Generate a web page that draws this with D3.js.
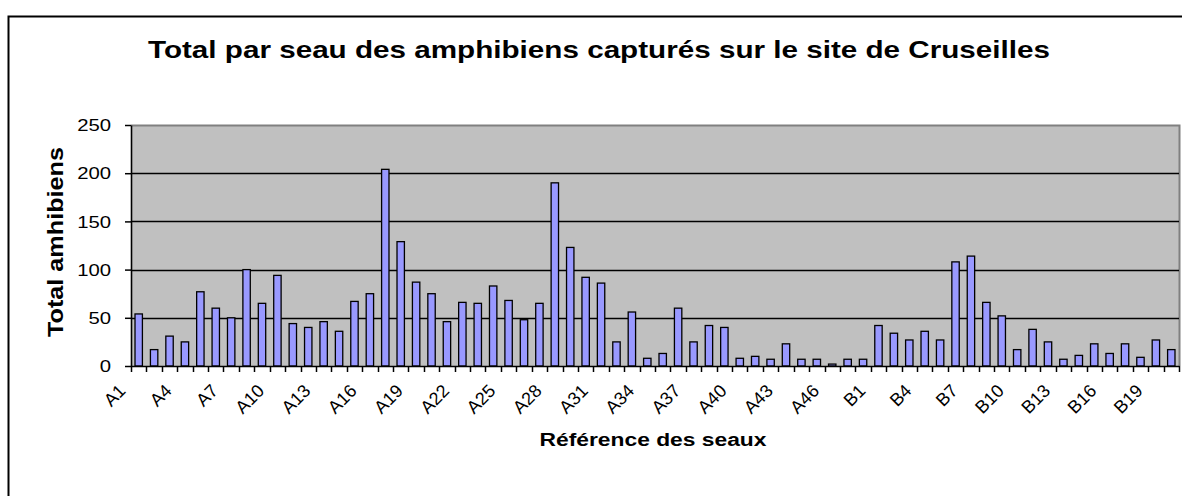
<!DOCTYPE html>
<html>
<head>
<meta charset="utf-8">
<script src="https://cdn.jsdelivr.net/npm/d3@7"></script>
<style>
  body { margin: 0; background: #fff; }
  text { font-family: Arial, "Liberation Sans", sans-serif; fill: #000; }
</style>
</head>
<body>
<div id="chart"></div>
<script>
(function() {
var width = 1182,
  height = 496;

var titre = "Total par seau des amphibiens capturés sur le site de Cruseilles";
var titreX = "Référence des seaux";
var titreY = "Total amhibiens";

// seaux de la ligne A et de la ligne B
var seauxA = ["A1","A2","A3","A4","A5","A6","A7","A8","A9","A10","A11","A12",
  "A13","A14","A15","A16","A17","A18","A19","A20","A21","A22","A23","A24",
  "A25","A26","A27","A28","A29","A30","A31","A32","A33","A34","A35","A36",
  "A37","A38","A39","A40","A41","A42","A43","A44","A45","A46","A47","A48"];
var seauxB = ["B1","B2","B3","B4","B5","B6","B7","B8","B9","B10",
  "B11","B12","B13","B14","B15","B16","B17","B18","B19","B20"];

var totalA = [54, 17, 31, 25, 77, 60, 50, 100, 65, 94, 44, 40,
  46, 36, 67, 75, 204, 129, 87, 75, 46, 66, 65, 83,
  68, 48, 65, 190, 123, 92, 86, 25, 56, 8, 13, 60,
  25, 42, 40, 8, 10, 7, 23, 7, 7, 2, 7, 7];
var totalB = [42, 34, 27, 36, 27, 108, 114, 66, 52, 17,
  38, 25, 7, 11, 23, 13, 23, 9, 27, 17];

var yTicks = [0, 50, 100, 150, 200, 250];

var seaux = seauxA.concat(seauxB);
var totaux = totalA.concat(totalB);
var data = seaux.map(function(s, i) { return { seau: s, total: totaux[i] }; });

var left = 131, right = 1179, top = 125, bottom = 366;

var svg = d3.select("#chart")
  .append("svg")
  .attr("width", width)
  .attr("height", height);

// cadre du graphique
svg.append("rect")
  .attr("x", 8.5).attr("y", 16.5)
  .attr("width", 1200).attr("height", 500)
  .attr("fill", "#fff")
  .attr("stroke", "#000")
  .attr("stroke-width", 2);

var x = d3.scaleBand().domain(seaux).range([left, right]);
var y = d3.scaleLinear().domain([0, 250]).range([bottom, top]);

// zone de tracé grise
svg.append("rect")
  .attr("x", left).attr("y", top)
  .attr("width", right - left).attr("height", bottom - top)
  .attr("fill", "#c0c0c0");

svg.append("path")
  .attr("d", "M" + left + "," + (top + 0.5) + "H" + (right + 0.5) + "V" + bottom)
  .attr("fill", "none")
  .attr("stroke", "#808080")
  .attr("stroke-width", 2);

svg.selectAll(".grille")
  .data(yTicks.filter(function(d) { return d > 0 && d < 250; }))
  .enter().append("line")
  .attr("class", "grille")
  .attr("x1", left).attr("x2", right)
  .attr("y1", function(d) { return Math.round(y(d)) + 0.5; })
  .attr("y2", function(d) { return Math.round(y(d)) + 0.5; })
  .attr("stroke", "#000")
  .attr("stroke-width", 1.6);

var bw = x.bandwidth() * 0.48;

svg.selectAll(".barre")
  .data(data)
  .enter().append("rect")
  .attr("class", "barre")
  .attr("x", function(d) { return x(d.seau) + (x.bandwidth() - bw) / 2; })
  .attr("y", function(d) { return y(d.total); })
  .attr("width", bw)
  .attr("height", function(d) { return bottom - y(d.total); })
  .attr("fill", "#9999ff")
  .attr("stroke", "#000")
  .attr("stroke-width", 1.3);

// axe Y
var axeY = svg.append("g")
  .attr("transform", "translate(" + left + ",0)")
  .call(d3.axisLeft(y).tickValues(yTicks).tickSize(6).tickSizeOuter(0));
axeY.select(".domain").attr("stroke-width", 1.6);
axeY.selectAll("line").attr("stroke-width", 1.5);
axeY.selectAll("text")
  .attr("x", 0)
  .attr("dy", "0.36em")
  .attr("transform", "translate(-20,0) scale(1.27,1)")
  .attr("font-size", 16)
  .attr("font-family", "Arial, 'Liberation Sans', sans-serif");

// axe X : étiquettes tous les 3 seaux
var axeX = svg.append("g")
  .attr("transform", "translate(0," + bottom + ")")
  .call(d3.axisBottom(x)
    .tickValues(seaux.filter(function(d, i) { return i % 3 === 0; }))
    .tickSize(0).tickSizeOuter(0));
axeX.select(".domain").attr("stroke-width", 1.6);
axeX.selectAll("text")
  .attr("x", 0).attr("y", 0).attr("dy", 0)
  .attr("text-anchor", "end")
  .attr("transform", "translate(-12,26) rotate(-45)")
  .attr("font-size", 18)
  .attr("font-family", "Arial, 'Liberation Sans', sans-serif");

// graduations entre les catégories
svg.selectAll(".grad")
  .data(seaux.concat(["fin"]))
  .enter().append("line")
  .attr("class", "grad")
  .attr("x1", function(d, i) { return Math.round(left + i * x.step()) + 0.5; })
  .attr("x2", function(d, i) { return Math.round(left + i * x.step()) + 0.5; })
  .attr("y1", bottom).attr("y2", bottom + 6)
  .attr("stroke", "#000")
  .attr("stroke-width", 1.5);

// titres
svg.append("text")
  .attr("x", 599).attr("y", 58)
  .attr("text-anchor", "middle")
  .attr("textLength", 902)
  .attr("lengthAdjust", "spacingAndGlyphs")
  .style("font-size", "24px")
  .style("font-weight", "bold")
  .text(titre);

svg.append("text")
  .attr("x", 653).attr("y", 446)
  .attr("text-anchor", "middle")
  .attr("textLength", 227)
  .attr("lengthAdjust", "spacingAndGlyphs")
  .style("font-size", "18px")
  .style("font-weight", "bold")
  .text(titreX);

svg.append("text")
  .attr("transform", "translate(63,242) rotate(-90)")
  .attr("text-anchor", "middle")
  .attr("textLength", 190)
  .attr("lengthAdjust", "spacingAndGlyphs")
  .style("font-size", "22px")
  .style("font-weight", "bold")
  .text(titreY);
})();
</script>
</body>
</html>
